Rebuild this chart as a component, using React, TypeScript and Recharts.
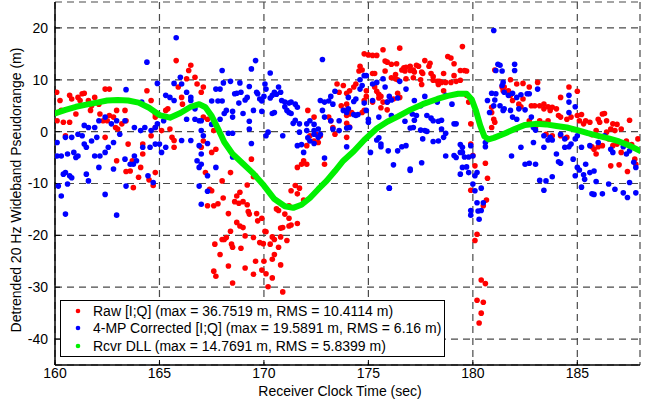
import { ScatterChart, Scatter, XAxis, YAxis, CartesianGrid } from 'recharts';

// time (sec), detrended pseudorange (m)
const RAW_IQ: [number, number][] = [
  [160.08, 7.6], [160.24, 6.0], [160.3, 4.1], [160.1, 2.1], [160.4, 1.8], [160.5, -0.8], [160.7, 7.0], [160.8, 6.3],
  [161.0, 3.4], [160.7, 1.8], [161.1, 6.6], [161.3, 7.3], [161.4, 7.4], [161.2, 6.0], [161.6, 6.0], [161.7, 4.1],
  [161.75, 5.0], [161.9, 6.6], [162.1, 5.3], [162.15, 3.4], [162.3, 2.1], [162.4, 8.2], [162.6, 8.2], [162.4, -1.1],
  [162.5, 2.1], [162.6, 3.1], [162.8, 2.8], [162.95, 4.1], [163.0, 0.5], [162.9, 0.8], [163.2, 1.5], [163.35, 4.1],
  [163.4, 2.1], [163.5, -2.4], [162.95, -5.6], [163.7, -5.6], [163.6, -7.6], [163.75, -10.8], [164.1, -6.9], [164.2, -4.3],
  [164.4, 7.9], [164.6, 6.0], [164.8, 3.4], [164.8, 0.8], [165.1, 0.2], [165.3, 4.1], [165.4, 4.4], [165.5, 0.5],
  [165.6, -1.1], [165.7, -3.0], [165.8, 13.7], [165.9, 8.6], [166.06, 6.6], [166.1, 5.3], [166.3, 10.2], [166.4, 11.8],
  [166.5, 12.8], [166.7, 10.5], [166.8, 9.2], [167.0, 7.6], [167.1, 2.8], [167.0, -3.0], [165.7, -1.7], [164.8, 2.8],
  [164.6, -0.8], [164.2, -2.4],
  [164.7, -10.4], [164.5, -9.3], [164.8, -7.9], [164.0, -8.8], [163.4, -7.7], [167.2, -7.9], [167.4, -11.1], [167.5, -11.4],
  [167.3, -14.3], [167.6, -14.3], [167.8, -13.9], [168.05, -12.8], [168.3, -15.8], [168.7, -12.4], [168.85, -11.7], [168.6, -13.5],
  [168.8, -13.8], [169.0, -13.5], [169.2, -14.1], [169.25, -15.4], [169.3, -15.9], [169.2, -10.3], [168.0, -9.5], [168.7, -17.5],
  [168.85, -18.2], [169.0, -18.5], [168.4, -19.2], [169.1, -20.1], [167.65, -21.7], [168.0, -20.8], [168.1, -20.8], [168.2, -20.4],
  [168.45, -21.7], [168.5, -22.3], [168.9, -22.5], [167.9, -23.7], [168.3, -25.9], [169.1, -26.3], [167.6, -26.9], [167.7, -27.9],
  [168.5, -29.2], [169.5, -27.5], [169.5, -20.4], [169.6, -25.0],
  [167.1, 8.6], [167.3, 2.4], [167.6, 0.2], [167.1, -1.8], [167.7, -3.4], [167.5, -4.0], [169.4, -5.3], [168.4, -7.9], [169.6, -8.5],
  [171.6, -6.9], [171.8, -6.3], [172.05, -6.3], [171.9, -5.6], [172.1, 4.1], [172.4, 2.8], [172.5, -0.5], [172.2, -0.8],
  [172.4, -1.8], [172.05, -2.7], [172.6, -2.1], [172.7, -0.8], [172.9, -6.3], [173.1, 2.8], [173.2, 2.1], [173.3, 0.8],
  [173.4, -0.5], [173.5, 9.2], [173.8, 8.9], [173.6, 7.6], [173.7, 5.0], [173.9, 4.1],
  [169.5, -8.7], [171.3, -11.4], [171.5, -10.4], [171.7, -10.9], [171.6, -12.0], [171.9, -13.2], [170.6, -14.9], [170.7, -15.2],
  [171.2, -14.3], [171.0, -15.9], [171.2, -16.7], [169.65, -15.8], [169.7, -17.2], [169.9, -16.7], [170.8, -18.6], [170.9, -18.5],
  [171.2, -18.2], [171.3, -18.0], [171.6, -17.7], [170.05, -19.2], [170.1, -19.3], [170.4, -20.3], [170.5, -20.8], [170.8, -20.3],
  [171.1, -21.0], [169.8, -21.4], [169.97, -21.6], [170.3, -21.7], [170.7, -22.3], [170.5, -23.7], [170.4, -24.6], [170.0, -25.0],
  [170.8, -25.7], [169.9, -26.7], [170.1, -27.4], [170.4, -28.2], [170.2, -29.9], [170.9, -30.9],
  [176.5, 16.1], [175.7, 15.8], [174.8, 15.0], [175.0, 14.8], [175.2, 14.7], [175.4, 14.7], [179.5, 16.4], [175.8, 13.6],
  [175.9, 13.4], [176.1, 13.0], [176.35, 13.1], [176.8, 12.4], [177.0, 12.6], [177.3, 12.8], [177.4, 12.6], [177.7, 13.7],
  [177.95, 13.2], [177.9, 12.6], [178.8, 14.5], [178.95, 14.2], [179.1, 13.1], [174.6, 12.6], [174.7, 11.9], [174.55, 11.7],
  [175.2, 11.2], [175.3, 11.2], [175.8, 11.7], [176.3, 11.0], [176.6, 11.9], [176.7, 12.3], [176.75, 11.7], [177.0, 11.8],
  [177.15, 11.9], [177.2, 11.5], [177.55, 11.5], [177.6, 11.2], [178.0, 11.2], [178.1, 10.6], [178.6, 11.2], [179.1, 10.8],
  [179.4, 11.8], [179.6, 11.8], [179.7, 11.7], [176.1, 10.4], [176.3, 10.2], [176.4, 10.0], [176.8, 10.2], [177.15, 10.4],
  [177.5, 10.0], [177.55, 9.1], [178.1, 9.9], [178.3, 9.7], [178.4, 9.7], [178.35, 9.1], [178.5, 9.5], [178.7, 9.5],
  [178.95, 9.5], [179.2, 9.7], [179.4, 9.9], [178.6, 7.9], [174.4, 9.2], [174.3, 8.6], [174.1, 7.9], [173.96, 7.4],
  [174.9, 7.9], [175.3, 8.6], [175.4, 7.8], [175.5, 7.2], [175.5, 6.5], [175.6, 6.8], [174.9, 6.8], [174.8, 6.0],
  [175.2, 5.7], [175.7, 5.7], [175.9, 5.7], [175.6, 4.6], [175.9, 4.2], [173.96, 5.3], [174.2, 3.7], [174.1, 3.4],
  [173.96, 3.1], [174.7, 3.7], [174.8, 4.1], [173.96, 1.6], [174.1, 0.9], [173.96, -1.1], [176.4, 7.4], [176.5, 6.6],
  [176.2, 6.3], [179.9, 6.3], [179.8, 5.7], [179.9, 1.5], [179.9, -2.4], [179.7, 7.0],
  [180.0, -4.6], [180.1, -6.6], [180.6, -6.1], [180.7, -9.0], [179.9, -11.3], [180.65, -13.2], [180.5, -14.3], [180.2, -19.8],
  [180.1, -21.0], [180.4, -28.6], [180.6, -29.3], [180.2, -32.5], [180.5, -32.9], [180.4, -35.0], [180.3, -36.9],
  [181.05, 11.9], [181.8, 10.0], [182.1, 9.2], [182.4, 9.3], [182.7, 8.6], [183.1, 9.5], [181.4, 8.6], [181.5, 8.6],
  [181.45, 7.9], [181.7, 7.9], [181.8, 7.0], [181.9, 6.0], [182.4, 6.3], [182.2, 5.3], [182.3, 4.8], [180.9, 4.7],
  [180.9, 3.7], [181.0, 2.4], [181.05, 1.8], [180.9, 0.8], [182.8, 5.0], [182.96, 5.0], [183.2, 5.0], [183.4, 5.3],
  [183.4, 4.4], [183.6, 4.8], [183.8, 4.7], [183.7, 4.1], [184.0, 4.4], [184.2, 6.6], [184.6, 8.6], [185.0, 7.8],
  [184.1, 3.1], [184.2, 2.8], [184.5, 2.4], [184.7, 2.8], [185.0, 3.1], [185.2, 3.3], [185.4, 2.1], [185.6, 1.8],
  [186.0, 2.4], [186.07, 1.8], [186.2, 3.4], [186.3, 3.5], [186.4, 2.1], [186.7, 1.5], [186.9, 1.4], [187.1, 0.5],
  [187.5, 2.2], [187.9, -1.4], [183.2, 2.1], [183.4, 1.6], [183.5, -0.5], [183.8, -0.8], [184.2, -0.8], [184.5, -1.1],
  [183.6, 2.1], [182.7, 2.1], [183.0, 0.9], [185.7, -2.9], [185.8, -3.4], [186.0, -2.9], [186.2, -2.7], [186.5, -1.4],
  [186.7, -2.7], [186.9, -2.4], [186.6, -6.6], [187.0, -6.4], [187.35, -1.8], [187.6, -2.5], [187.1, -4.0], [185.7, -0.6],
  [185.9, 0.2], [186.4, -0.1], [186.6, 0.5], [186.8, 0.2], [185.1, 2.1], [185.3, 1.5],
  [187.4, -7.7], [187.75, -5.3], [187.8, -6.3], [185.9, -4.3],
];

const CORRECTED_IQ: [number, number][] = [
  [165.8, 18.1], [164.4, 13.4], [164.9, 9.3], [163.4, 8.1], [165.7, 9.3], [166.0, 10.5], [166.06, 9.2], [165.3, 7.0],
  [165.5, 6.6], [165.7, 6.0], [166.3, 7.6], [166.5, 6.6], [166.5, 6.0], [164.15, 5.7], [166.7, 4.4], [166.3, 2.4],
  [166.7, 2.4], [166.9, 2.1], [165.2, 2.1], [164.9, 1.5], [164.8, 0.8], [164.6, 0.2], [164.3, 0.8], [164.1, 0.2],
  [163.8, 0.8], [163.35, 2.1], [162.95, 2.1], [162.7, 1.5], [162.4, 2.8], [162.1, 2.1], [161.9, 0.8], [161.6, 0.8],
  [161.4, 1.2], [161.3, -0.8], [161.1, -0.5], [160.8, -1.1], [160.5, -1.1], [160.1, -2.1], [160.3, -4.7], [160.1, -4.7],
  [160.6, -4.3], [160.9, -4.0], [161.0, -5.0], [161.1, -4.7], [161.4, -2.4], [161.5, -3.0], [161.75, -1.8], [162.0, -1.1],
  [161.9, -4.7], [162.15, -4.7], [162.4, -4.0], [162.55, -3.0], [162.8, -2.1], [163.1, -0.5], [162.1, -6.9], [161.5, -8.2],
  [161.6, -9.5], [160.5, -7.9], [160.4, -8.2], [160.7, -8.5], [160.8, -8.9], [160.6, -10.1], [160.16, -10.5], [160.3, -12.4],
  [162.4, -12.1], [162.8, -7.2], [163.35, -5.3], [163.6, -6.3], [163.75, -6.3], [163.9, -5.6], [163.8, -4.7], [164.2, -3.0],
  [164.45, -8.5], [164.7, -9.8], [164.55, -3.0], [164.8, -2.4], [165.0, -2.4], [165.3, -3.0], [165.1, -4.0], [166.06, -1.7],
  [166.5, -1.7], [166.9, -2.7], [167.0, -4.3], [166.8, -5.6], [167.0, -6.3], [166.9, -6.9], [166.9, -10.5], [167.0, -14.0],
  [163.4, -10.5], [160.5, -15.9], [162.95, -16.1], [167.3, -11.5],
  [169.6, 13.7], [169.4, 12.1], [168.0, 11.8], [172.8, 13.9], [170.3, 11.3], [168.4, 9.7], [168.06, 9.4], [168.85, 9.4],
  [169.3, 8.7], [170.05, 9.2], [170.1, 8.2], [170.7, 8.6], [167.7, 8.2], [167.9, 8.2], [168.6, 7.3], [168.7, 7.4],
  [168.9, 7.6], [169.65, 7.6], [169.7, 7.3], [170.5, 7.6], [170.8, 7.6], [170.6, 7.2], [169.2, 6.6], [169.1, 6.1],
  [168.8, 5.5], [170.0, 6.8], [169.9, 5.9], [169.8, 6.3], [170.3, 6.5], [170.4, 7.0], [167.5, 5.9], [167.8, 5.9],
  [168.0, 5.9], [171.0, 5.7], [171.2, 5.5], [171.3, 5.7], [171.5, 5.3], [170.85, 6.0], [171.0, 4.8], [169.5, 4.1],
  [169.9, 3.9], [170.4, 3.5], [170.5, 3.7], [171.1, 4.1], [171.2, 3.7], [171.3, 3.5], [171.6, 4.7], [168.5, 3.9],
  [168.2, 4.1], [168.1, 3.5], [169.0, 3.5], [168.5, 2.8], [169.3, 2.0], [167.5, 1.4], [167.0, 2.1], [167.9, 2.4],
  [171.5, 2.2], [171.4, 1.6], [171.7, 1.5], [172.05, 1.5], [172.2, 2.1], [172.4, 1.4], [172.7, 6.0], [172.9, 5.7],
  [173.1, 5.9], [173.3, 5.3], [173.4, 7.8], [173.2, 6.8], [172.8, 4.1], [172.9, 2.8], [173.2, 2.1], [173.3, 0.5],
  [173.6, 0.2], [173.6, 2.1], [173.8, 4.1], [173.96, 3.7], [169.3, 0.5], [168.5, -0.3], [168.3, -0.3], [170.2, -0.1],
  [170.1, -0.8], [170.9, -0.8], [171.7, -0.1], [172.05, 0.2], [172.4, 0.2], [172.4, -0.5], [172.6, 0.5], [172.1, -1.2],
  [172.2, -1.8], [172.4, -2.3], [172.6, -1.1], [172.7, -0.5], [171.6, -2.7], [171.8, -2.5], [171.9, -4.0], [172.9, -5.1],
  [167.0, 0.2], [167.1, -0.8], [167.3, -2.3], [167.7, -6.9], [168.5, -4.9], [169.4, -2.3], [167.3, -8.5],
  [176.0, -10.9], [177.0, -7.5],
  [181.0, 19.5], [174.8, 10.8], [174.9, 10.8], [174.6, 10.0], [174.7, 8.9], [174.6, 8.2], [175.2, 9.2], [175.4, 9.5],
  [175.7, 10.2], [176.5, 9.7], [175.8, 8.6], [176.8, 8.2], [174.04, 6.6], [174.3, 5.8], [174.4, 6.3], [174.8, 5.5],
  [175.2, 6.0], [176.0, 6.8], [176.1, 6.1], [175.9, 5.7], [176.4, 6.5], [177.2, 6.0], [177.7, 6.8], [177.5, 5.0],
  [178.3, 5.7], [178.7, 7.0], [179.0, 5.3], [174.04, 4.4], [174.3, 3.3], [174.4, 3.1], [174.5, 3.3], [174.9, 4.1],
  [175.0, 2.4], [175.5, 2.8], [176.1, 3.1], [176.75, 2.0], [177.1, 3.4], [177.2, 2.2], [177.3, 3.1], [177.8, 3.1],
  [178.0, 2.6], [178.1, 2.1], [178.35, 2.0], [178.5, 2.2], [179.1, 1.5], [179.2, 1.5], [174.1, 0.8], [173.96, 0.7],
  [177.0, 0.7], [177.15, 0.8], [177.5, 0.3], [177.7, 0.2], [177.8, 0.05], [178.5, 0.5], [178.7, -0.3], [178.1, -1.9],
  [178.35, -1.8], [178.6, -1.1], [177.6, -1.4], [175.5, -1.2], [175.4, -1.6], [175.6, -2.4], [175.6, -2.9], [175.1, -4.0],
  [175.95, -3.7], [176.4, -3.7], [176.6, -2.9], [176.8, -2.7], [178.7, -4.7], [179.4, -2.5], [179.5, -3.0], [179.4, -4.0],
  [179.2, -5.0], [179.5, -4.0], [179.6, -4.9], [179.8, -4.9], [179.9, -2.7], [180.0, -4.7], [179.5, -6.9], [179.7, -6.8],
  [176.2, -6.4], [177.55, -6.0], [177.0, -7.2], [176.0, -10.9], [180.7, 6.0], [180.9, 7.4], [180.8, 3.7], [180.6, -2.1],
  [180.6, -2.9], [175.0, 1.8], [173.96, -2.9], [179.1, -4.6],
  [180.0, -10.1], [180.1, -11.4], [180.2, -13.7], [179.9, -15.2], [179.9, -16.1], [180.25, -15.3], [180.4, -15.2], [180.5, -13.7],
  [180.3, -16.9], [180.4, -10.9], [179.4, -8.2], [179.8, -7.9], [180.2, -7.9], [180.1, -8.5],
  [181.2, 13.0], [181.3, 12.8], [181.1, 11.8], [181.4, 11.7], [182.0, 13.0], [182.0, 11.8], [181.45, 9.5], [181.4, 8.9],
  [181.1, 7.3], [181.05, 6.1], [181.5, 7.6], [181.7, 7.0], [181.9, 7.4], [182.3, 7.1], [182.6, 7.3], [182.7, 7.3],
  [183.1, 8.2], [182.1, 6.6], [181.3, 5.0], [181.5, 4.4], [181.45, 4.1], [181.8, 4.1], [181.9, 2.8], [182.1, 2.4],
  [182.2, 4.4], [182.5, 4.2], [184.6, 7.0], [184.6, 5.7], [184.6, 3.7], [184.9, 4.8], [182.8, 2.8], [182.9, 0.8],
  [183.0, 0.3], [183.4, -0.8], [183.7, -1.1], [183.8, -1.6], [183.6, -1.6], [184.2, -0.5], [184.4, -1.4], [184.4, -3.0],
  [184.6, -2.9], [184.7, -2.4], [184.9, -1.4], [185.0, -0.8], [185.2, -3.0], [185.6, -2.7], [186.0, -2.1], [186.3, -0.8],
  [186.6, -3.4], [186.7, -4.0], [187.2, -2.9], [187.35, -4.3], [187.5, -3.7], [187.7, -5.9], [187.8, -6.9], [182.3, -3.0],
  [182.9, -2.1], [183.4, -3.0], [184.0, -4.3], [184.1, -5.8], [184.2, -6.1], [184.8, -5.3], [185.0, -6.9], [185.1, -7.4],
  [185.3, -8.3], [185.4, -6.3], [185.6, -7.9], [185.8, -7.6], [184.9, -8.5], [185.35, -9.2], [185.9, -9.6], [182.5, -6.3],
  [182.7, -6.1], [183.0, -6.3], [181.85, -4.7], [183.2, -9.4], [183.5, -9.5], [183.8, -8.7], [183.4, -11.3], [185.2, -10.7],
  [185.7, -12.0], [185.8, -12.1], [186.2, -12.0], [186.5, -10.1], [186.8, -11.1], [187.2, -11.8], [187.4, -12.7], [187.5, -9.8],
  [187.8, -11.8], [181.0, 5.0],
];

const RCVR_DLL: [number, number][] = [
  [160, 3.5], [160.5, 4.2], [161, 4.8], [161.5, 5.2], [162, 5.6], [162.5, 6.0], [163, 6.1], [163.5, 6.0],
  [164, 5.6], [164.5, 4.6], [165, 3.2], [165.5, 2.7], [166, 3.6], [166.5, 4.8], [166.9, 5.3], [167.2, 4.7],
  [167.5, 3.0], [167.8, 0.6], [168.1, -2.0], [168.5, -4.3], [169, -6.2], [169.5, -8.1], [170, -10.4], [170.5, -13.0],
  [171, -14.4], [171.4, -14.7], [171.8, -14.1], [172.2, -12.8], [172.6, -11.1], [173, -9.5], [173.4, -7.6], [173.8, -5.6],
  [174.3, -3.8], [174.8, -1.6], [175.4, 0.6], [175.9, 1.9], [176.4, 2.9], [177, 4.2], [177.6, 5.3], [178.3, 6.3],
  [178.8, 6.9], [179.3, 7.3], [179.7, 7.3], [179.95, 6.2], [180.15, 4.0], [180.35, 1.2], [180.55, -0.9], [180.75, -1.5],
  [181, -1.2], [181.5, -0.4], [182, 0.5], [182.5, 1.3], [183, 1.5], [183.5, 1.4], [184, 1.1], [184.5, 0.8],
  [185, 0.3], [185.5, -0.3], [186, -0.8], [186.5, -1.3], [187, -1.9], [187.5, -2.7], [188, -3.7],
];

const X_TICKS = [160, 165, 170, 175, 180, 185];
const Y_TICKS = [-40, -30, -20, -10, 0, 10, 20];

const LEGEND = [
  { name: 'Raw [I;Q] (max = 36.7519 m, RMS = 10.4114 m)', color: '#ff0000' },
  { name: '4-MP Corrected [I;Q] (max = 19.5891 m, RMS = 6.16 m)', color: '#0000ff' },
  { name: 'Rcvr DLL (max = 14.7691 m, RMS = 5.8399 m)', color: '#00f000' },
];

const toPts = (arr: [number, number][]) => arr.map(([x, y]) => ({ x, y }));

const FONT = 'Arial, "Liberation Sans", Helvetica, sans-serif';

const dot = (color: string) => (props: any) => (
  <circle cx={props.cx} cy={props.cy} r={2.8} fill={color} />
);

export default function App() {
  return (
    <div style={{ position: 'absolute', left: 0, top: 0, width: 657, height: 401, background: '#fff', fontFamily: FONT }}>
      <ScatterChart width={657} height={401} margin={{ top: 2, right: 17, bottom: 0, left: 0 }}>
        <CartesianGrid stroke="#4a4a4a" strokeDasharray="7 5" strokeWidth={1.2} />
        <XAxis
          type="number"
          dataKey="x"
          domain={[160, 188]}
          ticks={X_TICKS}
          allowDataOverflow
          height={36}
          tickLine={{ stroke: '#000' }}
          tickSize={-5}
          tickMargin={8}
          axisLine={{ stroke: '#000', strokeWidth: 1.5 }}
          tick={{ fill: '#000', fontSize: 14, fontFamily: FONT }}
          label={() => (
            <text x={340} y={396} textAnchor="middle" fontSize={14} fill="#000" fontFamily={FONT}>
              Receiver Clock Time (sec)
            </text>
          )}
        />
        <YAxis
          type="number"
          dataKey="y"
          domain={[-45, 25]}
          ticks={Y_TICKS}
          allowDataOverflow
          width={55}
          tickLine={{ stroke: '#000' }}
          tickSize={-5}
          tickMargin={12}
          axisLine={{ stroke: '#000', strokeWidth: 1.5 }}
          tick={{ fill: '#000', fontSize: 14, fontFamily: FONT }}
          label={() => (
            <text x={21} y={190} transform="rotate(-90 21 190)" textAnchor="middle" fontSize={14} fill="#000" fontFamily={FONT}>
              Detrended 20 Hz Wideband Pseudorange (m)
            </text>
          )}
        />
        <XAxis
          xAxisId="top"
          orientation="top"
          type="number"
          domain={[160, 188]}
          ticks={X_TICKS}
          height={0}
          tick={false}
          tickLine={{ stroke: '#000' }}
          tickSize={-5}
          axisLine={{ stroke: '#000', strokeWidth: 1.5 }}
        />
        <YAxis
          yAxisId="right"
          orientation="right"
          type="number"
          domain={[-45, 25]}
          ticks={Y_TICKS}
          width={0}
          tick={false}
          tickLine={{ stroke: '#000' }}
          tickSize={-5}
          axisLine={{ stroke: '#000', strokeWidth: 1.5 }}
        />
        <Scatter data={toPts(RAW_IQ)} fill="#ff0000" shape={dot('#ff0000')} isAnimationActive={false} />
        <Scatter data={toPts(CORRECTED_IQ)} fill="#0000ff" shape={dot('#0000ff')} isAnimationActive={false} />
        <Scatter
          data={toPts(RCVR_DLL)}
          fill="#00f000"
          line={{ stroke: '#00f000', strokeWidth: 6, strokeLinecap: 'round', strokeLinejoin: 'round' }}
          lineType="joint"
          shape={() => <g />}
          isAnimationActive={false}
        />
      </ScatterChart>
      <div
        style={{
          position: 'absolute',
          left: 60,
          top: 300,
          width: 383,
          height: 54,
          border: '1.5px solid #000',
          background: '#fff',
          fontSize: 14,
          color: '#000',
          paddingTop: 1,
          boxSizing: 'content-box',
        }}
      >
        {LEGEND.map((item) => (
          <div key={item.name} style={{ display: 'flex', alignItems: 'center', height: 17.5, whiteSpace: 'nowrap' }}>
            <svg width={32} height={10} style={{ flex: 'none' }}>
              <circle cx={17} cy={5} r={2.3} fill={item.color} />
            </svg>
            <span>{item.name}</span>
          </div>
        ))}
      </div>
    </div>
  );
}
